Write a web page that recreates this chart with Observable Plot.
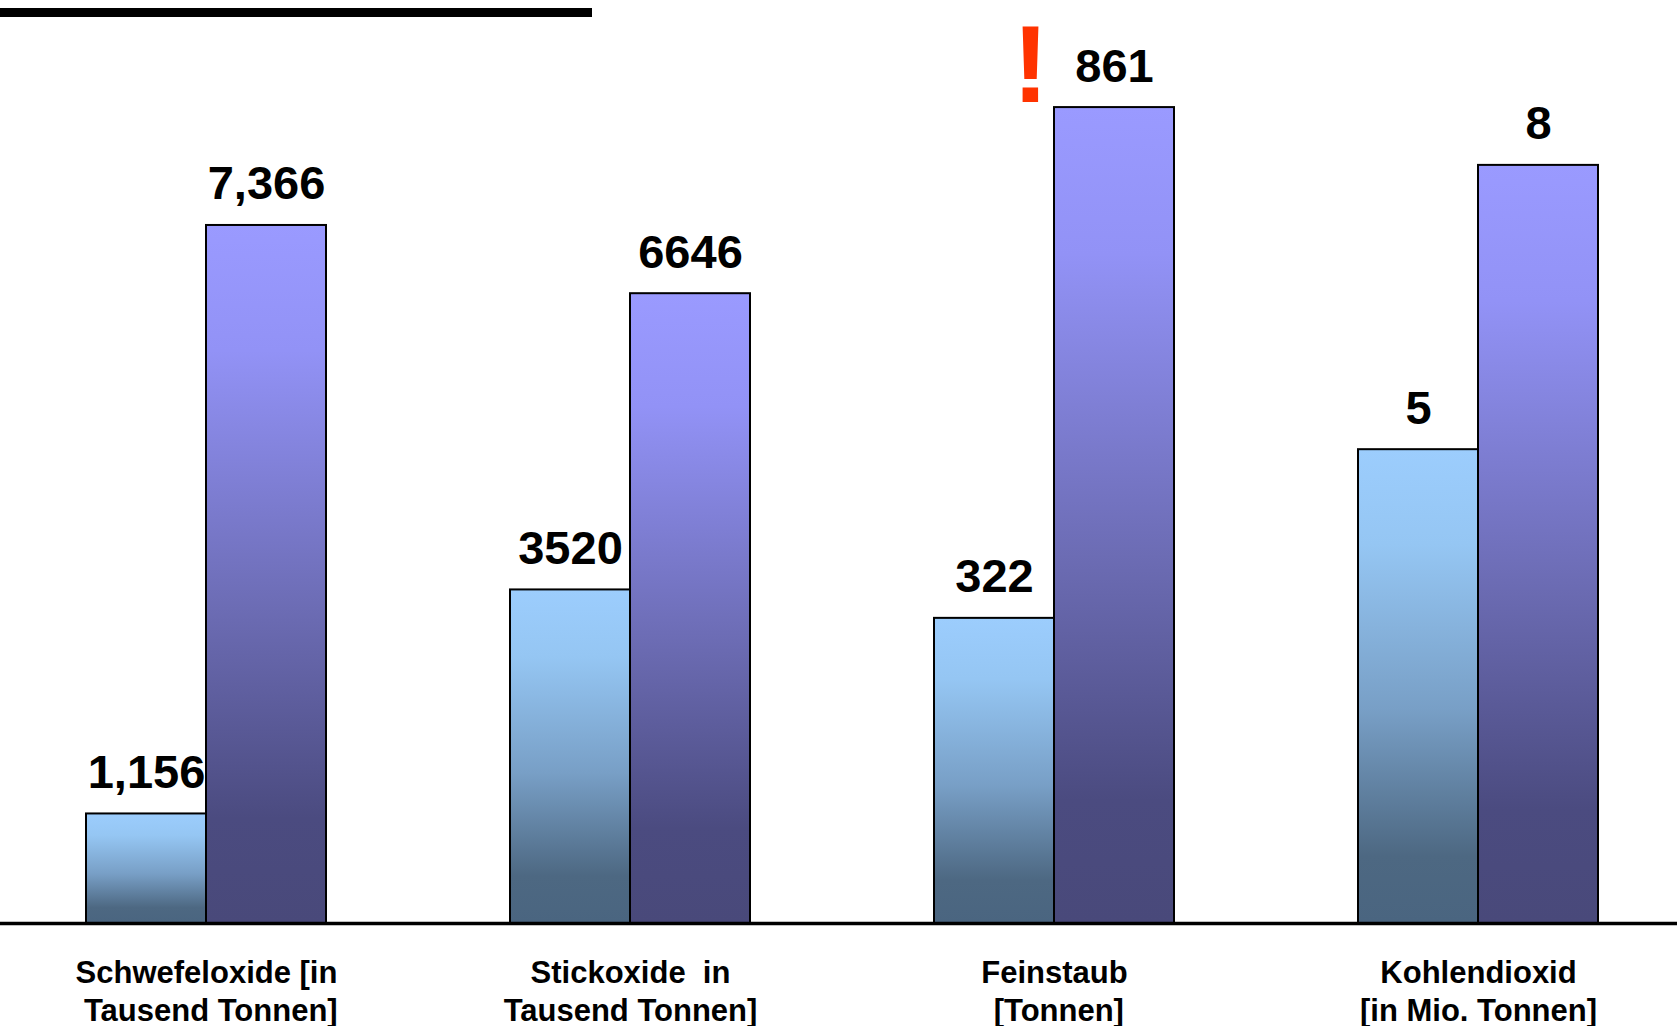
<!DOCTYPE html>
<html><head><meta charset="utf-8">
<script src="https://cdn.jsdelivr.net/npm/d3@7"></script>
<script src="https://cdn.jsdelivr.net/npm/@observablehq/plot@0.6"></script>
<style>
html,body{margin:0;padding:0;background:#fff;}
#wrap{position:relative;width:1677px;height:1026px;overflow:hidden;}
#topbar{position:absolute;left:0;top:8px;width:592px;height:9px;background:#000;}
svg text{white-space:pre;}
</style></head><body><div id="wrap"><div id="topbar"></div></div>
<script>
// Categories (with their unit notes, as on the axis)
const categories = [
  "Schwefeloxide [in\n Tausend Tonnen]",
  "Stickoxide  in\nTausend Tonnen]",
  "Feinstaub\n [Tonnen]",
  "Kohlendioxid\n[in Mio. Tonnen]"
];
// Each category was drawn against its own value axis; these are the axis maxima
const axisMax = [10000, 10000, 1000, 10];
const seriesNames = ["Reihe 1", "Reihe 2"];
const values1 = [1156, 3520, 322, 5];
const values2 = [7366, 6646, 861, 8];
const labels1 = ["1,156", "3520", "322", "5"];
const labels2 = ["7,366", "6646", "861", "8"];
const notes = [{category: categories[2], series: seriesNames[0], text: "!"}];

const data = [];
categories.forEach((c, i) => {
  data.push({category: c, series: seriesNames[0], value: values1[i], label: labels1[i], norm: values1[i] / axisMax[i]});
  data.push({category: c, series: seriesNames[1], value: values2[i], label: labels2[i], norm: values2[i] / axisMax[i]});
});

const font = "'Liberation Sans', Arial, Helvetica, sans-serif";
const plot = Plot.plot({
  width: 1677, height: 1026,
  marginTop: 0, marginBottom: 103, marginLeft: -7, marginRight: -13,
  style: {fontFamily: font, background: "transparent", overflow: "visible"},
  fx: {domain: categories, padding: 0, axis: null},
  x: {domain: seriesNames, paddingInner: 0, paddingOuter: 0.754, axis: null},
  y: {domain: [0, 0.974], axis: null},
  color: {type: "ordinal", domain: seriesNames, range: ["url(#gradBlue)", "url(#gradPurple)"]},
  marks: [
    Plot.barY(data, {fx: "category", x: "series", y: "norm", fill: "series", stroke: "#000", strokeWidth: 2}),
    Plot.ruleY([0], {stroke: "#000", strokeWidth: 3.5}),
    Plot.text(data, {fx: "category", x: "series", y: "norm", text: "label", lineAnchor: "bottom", dy: -26,
      fontSize: 47, fontWeight: "bold", fill: "#000"}),
    Plot.text(categories, {fx: d => d, text: d => d, frameAnchor: "bottom", lineAnchor: "bottom", dy: 97,
      lineHeight: 1.22, fontSize: 31, fontWeight: "bold", fill: "#000"}),
    Plot.text(notes, {fx: "category", x: "series", text: "text", frameAnchor: "top", lineAnchor: "bottom",
      dy: 101, dx: 36, fontSize: 110, fontWeight: "bold", fill: "#ff3300"})
  ]
});

const svg = d3.select(plot);
const defs = svg.insert("defs", ":first-child");
function grad(id, stops) {
  const g = defs.append("linearGradient").attr("id", id)
    .attr("x1", 0).attr("y1", 0).attr("x2", 0).attr("y2", 1);
  stops.forEach(([o, c]) => g.append("stop").attr("offset", o).attr("stop-color", c));
}
grad("gradBlue", [[0, "#9ccdfd"], [0.2, "#95c6f3"], [0.55, "#789fc6"], [0.86, "#4d6882"], [1, "#4a6580"]]);
grad("gradPurple", [[0, "#9a9aff"], [0.18, "#9292f6"], [0.55, "#6c6cb4"], [0.85, "#4b4b80"], [1, "#49497a"]]);

document.getElementById("wrap").appendChild(plot);
</script></body></html>
